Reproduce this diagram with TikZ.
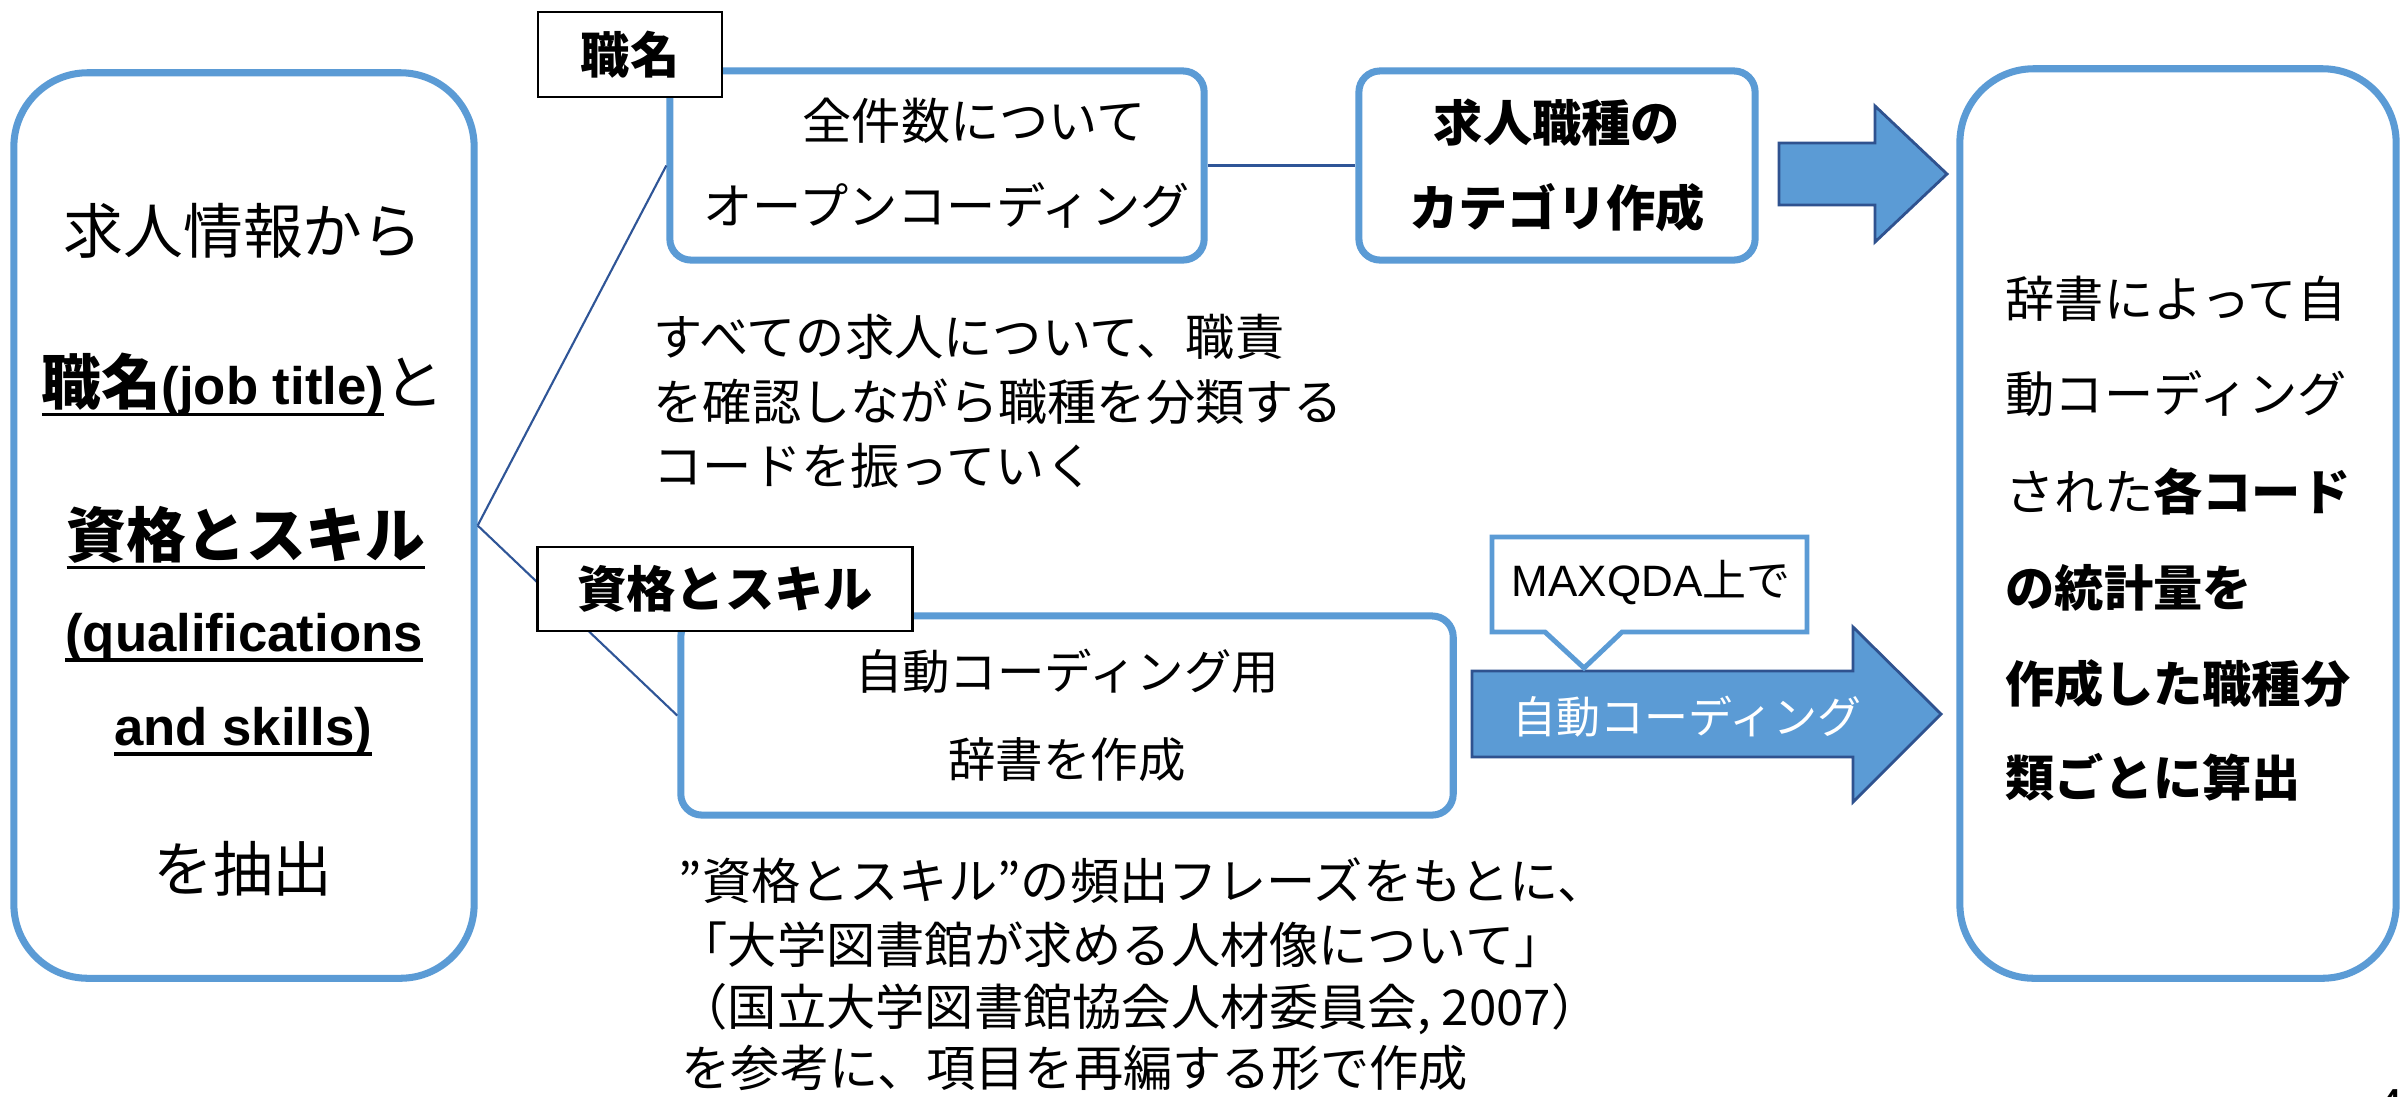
\documentclass[tikz,border=0pt]{standalone}
\usepackage{fontspec}
\setmainfont{Noto Sans CJK JP}
\newfontfamily\lat{Liberation Sans}
\definecolor{boxblue}{RGB}{91,155,213}
\definecolor{darkblue}{RGB}{47,85,151}
\definecolor{arrowedge}{RGB}{47,82,143}
\newsavebox{\ulbox}
\newcommand{\myul}[1]{\sbox{\ulbox}{#1}\leavevmode\rlap{\rule[-0.2em]{\wd\ulbox}{0.9pt}}\usebox{\ulbox}}
\begin{document}
\begin{tikzpicture}[x=0.01cm,y=-0.01cm,
  bigbox/.style={draw=boxblue,line width=2pt,fill=white,rounded corners=21pt,inner sep=0pt},
  midbox/.style={draw=boxblue,line width=2pt,fill=white,rounded corners=6pt,inner sep=0pt},
  tagbox/.style={draw=black,line width=0.8pt,fill=white,inner sep=0pt,font=\fontsize{14pt}{17pt}\selectfont\bfseries},
  conn/.style={draw=darkblue,line width=0.6pt},
  blockarrow/.style={fill=boxblue,draw=arrowedge,line width=0.8pt,line join=miter},
  txt/.style={inner sep=0pt,anchor=base west},
  ctxt/.style={inner sep=0pt,anchor=base},
  fL/.style={font=\fontsize{17pt}{20pt}\selectfont},
  fM/.style={font=\fontsize{14pt}{17pt}\selectfont},
  fB/.style={font=\fontsize{13.5pt}{16pt}\selectfont},
  fR/.style={font=\fontsize{14pt}{17pt}\selectfont},
]
\useasboundingbox (0,0) rectangle (2400,1096);
\fill[white] (0,0) rectangle (2400,1096);

% main boxes
\node[bigbox,minimum width=4.6cm,minimum height=9.05cm] (L) at (244,525.5) {};
\node[bigbox,minimum width=4.36cm,minimum height=9.09cm] (R) at (2178,523.5) {};
\node[midbox,minimum width=5.34cm,minimum height=1.89cm] (A) at (937,165.5) {};
\node[midbox,minimum width=3.96cm,minimum height=1.89cm] (C) at (1557,165.5) {};
\node[midbox,minimum width=7.72cm,minimum height=1.99cm] (B) at (1067,715.5) {};

% connectors
\draw[conn] (L.east) -- (A.west);
\draw[conn] (L.east) -- (B.west);
\draw[conn] (A.east) -- (C.west);

% tag labels
\node[tagbox,minimum width=1.84cm,minimum height=0.85cm] (tag1) at (630,54.5) {職名};
\node[tagbox,minimum width=3.74cm,minimum height=0.84cm] (tag2) at (725,589) {資格とスキル};

% block arrows
\draw[blockarrow] (1779,143) -- (1875,143) -- (1875,106) -- (1947,174) -- (1875,242) -- (1875,205) -- (1779,205) -- cycle;
\draw[blockarrow] (1472,671) -- (1853,671) -- (1853,627) -- (1941,714) -- (1853,802) -- (1853,757) -- (1472,757) -- cycle;
\node[ctxt,text=white,font=\fontsize{12.5pt}{15pt}\selectfont] (arrtxt) at (1687,733) {自動コーディング};

% callout
\draw[draw=boxblue,line width=1.4pt,fill=white,line join=miter] (1492,537) -- (1807,537) -- (1807,632) -- (1622,632) -- (1584,668) -- (1545,632) -- (1492,632) -- cycle;
\node[ctxt,font=\fontsize{12.5pt}{15pt}\selectfont] (mq) at (1651,596) {{\lat MAXQDA}上で};

% left box text
\node[ctxt,fL] (l1) at (243,253) {求人情報から};
\node[ctxt,fL] (l2) at (243,404) {\myul{\bfseries 職名{\lat\fontsize{15pt}{18pt}\selectfont(job title)}}と};
\node[ctxt,fL] (l3) at (246,557) {\bfseries\myul{資格とスキル}};
\node[ctxt,font=\lat\bfseries\fontsize{15pt}{18pt}\selectfont] (l4) at (244,651) {\myul{(qualifications}};
\node[ctxt,font=\lat\bfseries\fontsize{15pt}{18pt}\selectfont] (l5) at (243,745) {\myul{and skills)}};
\node[ctxt,fL] (l6) at (243,891) {を抽出};

% box A text
\node[txt,fM] (a1) at (802,139) {全件数について};
\node[txt,fM] (a2) at (703,224) {オープンコーディング};

% box C text
\node[ctxt,font=\fontsize{14pt}{17pt}\selectfont\bfseries] (c1) at (1557,141) {求人職種の};
\node[ctxt,font=\fontsize{14pt}{17pt}\selectfont\bfseries] (c2) at (1557,226) {カテゴリ作成};

% text under A
\node[txt,fM] (u1) at (653,355) {すべての求人について、職責};
\node[txt,fM] (u2) at (653,420) {を確認しながら職種を分類する};
\node[txt,fM] (u3) at (653,484) {コードを振っていく};

% box B text
\node[ctxt,fB] (b1) at (1067,689) {自動コーディング用};
\node[ctxt,fB] (b2) at (1067,777) {辞書を作成};

% text under B
\node[txt,fM] (d1) at (678,899) {”資格とスキル”の頻出フレーズをもとに、};
\node[txt,fM] (d2) at (678,963) {「大学図書館が求める人材像について」};
\node[txt,fM] (d3) at (678,1025) {（国立大学図書館協会人材委員会, 2007）};
\node[txt,fM] (d4) at (681,1086) {を参考に、項目を再編する形で作成};

% right box text
\node[txt,fR] (r1) at (2005,317) {辞書によって自};
\node[txt,fR] (r2) at (2005,412) {動コーディング};
\node[txt,fR] (r3) at (2005,510) {された{\bfseries 各コード}};
\node[txt,fR] (r4) at (2005,606) {\bfseries の統計量を};
\node[txt,fR] (r5) at (2005,702) {\bfseries 作成した職種分};
\node[txt,fR] (r6) at (2005,796) {\bfseries 類ごとに算出};

% page number (cut off)
\node[txt,font=\lat\fontsize{14pt}{17pt}\selectfont] (pg) at (2376,1123) {4};
\end{tikzpicture}
\end{document}
